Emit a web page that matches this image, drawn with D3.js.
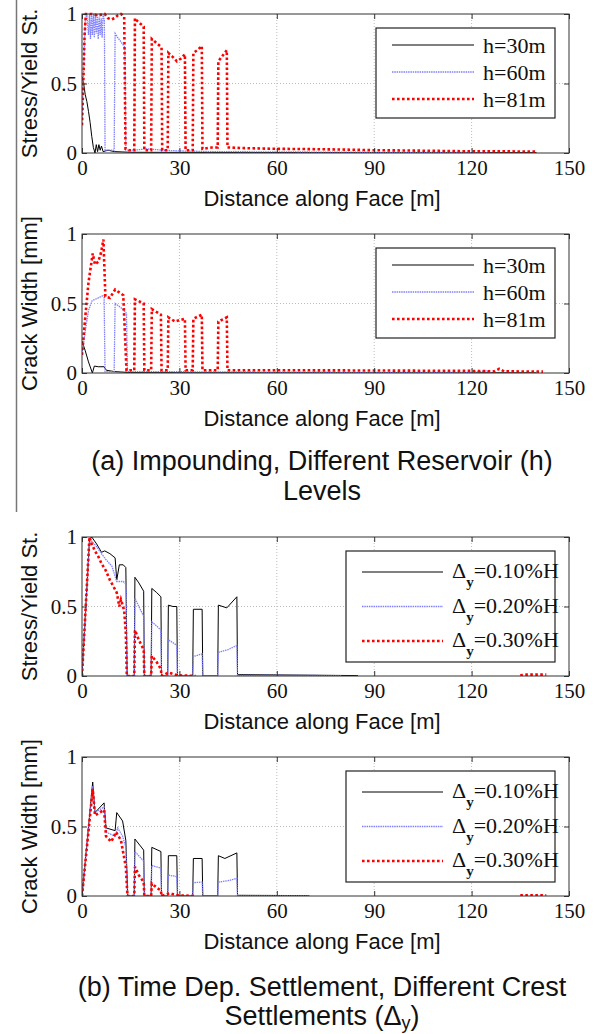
<!DOCTYPE html>
<html>
<head>
<meta charset="utf-8">
<script src="https://cdnjs.cloudflare.com/ajax/libs/d3/7.8.5/d3.min.js"></script>
<style>
body{margin:0;background:#fff}
svg{display:block}
</style>
</head>
<body>
<script>
// ---- data: [distance along face (m), value] ----
// (a) impounding, stress / yield strength
var stressH30=[[0,0.55],[0.5,0.5],[1,0.42],[1.5,0.37],[2,0.3],[2.5,0.22],[3,0.12],[3.5,0.04],[4,0],[4.4,0.06],[4.8,0.01],[5.2,0.06],[5.6,0.02],[6,0.05],[6.5,0.01],[8,0.02],[10,0.01],[15,0.005],[40,0.004],[80,0.003],[140,0.002]]
var stressH60=[[0,0.25],[0.5,0.6],[1,0.95],[1.5,1],[2,0.85],[2.3,1],[2.6,0.82],[2.9,1],[3.2,0.85],[3.5,1],[3.8,0.83],[4.1,0.99],[4.4,0.86],[4.7,1],[5,0.82],[5.3,0.98],[5.6,0.85],[5.9,0.97],[6.2,0.83],[6.5,1],[6.9,0.95],[7.1,0.02],[8,0.02],[9.9,0.02],[10.2,0.86],[11,0.83],[12,0.8],[13.2,0.76],[13.5,0.02],[16,0.02],[20,0.03],[25,0.02],[30,0.015],[40,0.01],[60,0.008],[90,0.005],[110,0.004],[125,0.003]]
var stressH81=[[0,0.2],[0.4,0.5],[0.8,0.85],[1.2,1],[3,1],[5,0.99],[7,1],[8,0.97],[9,0.96],[10,0.97],[11,0.99],[12,1],[13,0.98],[13.4,0.03],[14.5,0.02],[16.1,0.02],[16.3,0.97],[17,0.95],[18,0.93],[19,0.91],[19.2,0.02],[21.3,0.02],[21.5,0.82],[23,0.79],[24.5,0.76],[24.7,0.02],[26.4,0.02],[26.6,0.72],[28,0.69],[29.2,0.66],[30.5,0.68],[31.7,0.71],[31.9,0.02],[34.1,0.02],[34.3,0.72],[35.5,0.74],[36.9,0.77],[37.1,0.03],[40,0.04],[41.8,0.04],[42,0.66],[43.3,0.7],[44.6,0.74],[44.8,0.04],[50,0.035],[60,0.03],[70,0.028],[80,0.025],[90,0.02],[100,0.018],[110,0.015],[120,0.012],[130,0.012],[140,0.01]]
// (a) impounding, crack width (mm)
var crackH30=[[0,0.23],[1,0.16],[2,0.08],[3.2,0],[3.8,0.05],[5,0.045],[6.8,0.045],[7.5,0.02],[10,0.01],[15,0.003],[40,0.002],[80,0.002],[140,0.001]]
var crackH60=[[0,0.14],[1,0.3],[2,0.45],[3.1,0.52],[5,0.54],[6.8,0.56],[7.1,0.01],[9.9,0.01],[10.2,0.5],[12,0.47],[13.7,0.43],[14,0.01],[20,0.01],[40,0.008],[80,0.005],[120,0.005],[124.6,0.015],[126,0.003]]
var crackH81=[[0,0.13],[1,0.4],[2,0.65],[3.3,0.86],[4,0.78],[5,0.8],[5.8,0.86],[6.6,0.96],[7.2,0.55],[8.6,0.54],[10.2,0.6],[12.7,0.56],[13.7,0.02],[16.1,0.02],[16.3,0.53],[19,0.5],[19.2,0.02],[21.3,0.02],[21.5,0.46],[24.3,0.42],[24.5,0.02],[26.4,0.02],[26.6,0.4],[28.7,0.37],[30,0.38],[31.7,0.39],[31.9,0.02],[34.1,0.02],[34.3,0.39],[36.9,0.42],[37.1,0.02],[41.8,0.02],[42,0.37],[44.6,0.4],[44.8,0.02],[60,0.02],[90,0.018],[120,0.015],[127,0.012],[128.5,0.03],[130,0.012],[142,0.01]]
// (b) time dep. settlement, stress / yield strength
var stressD10=[[0,0],[2.3,0.98],[3,1],[4.5,0.95],[6,0.89],[7,0.9],[8.6,0.88],[10.2,0.85],[10.7,0.69],[11.5,0.8],[12.7,0.8],[13.5,0.78],[13.9,0],[16.1,0],[16.3,0.71],[17.5,0.67],[19,0.61],[19.2,0],[21.3,0],[21.5,0.63],[23,0.6],[24.3,0.57],[24.5,0],[26.4,0],[26.6,0.51],[28,0.5],[29.2,0.5],[29.4,0],[34.1,0],[34.3,0.48],[37,0.48],[37.2,0],[41.8,0],[42,0.51],[44.6,0.49],[47.7,0.57],[47.9,0.01],[60,0.008],[85,0.003]]
var stressD20=[[0,0],[2.3,0.96],[3,0.97],[4.5,0.93],[6,0.88],[7.3,0.84],[9.2,0.79],[10.7,0.68],[12.7,0.68],[13.6,0.66],[13.8,0],[16.1,0],[16.3,0.56],[17.5,0.5],[19,0.43],[19.2,0],[21.3,0],[21.5,0.39],[23,0.36],[24.3,0.33],[24.5,0],[26.4,0],[26.6,0.26],[28,0.24],[29.2,0.22],[29.4,0],[34.1,0],[34.3,0.14],[37,0.16],[37.2,0],[41.8,0],[42,0.17],[45,0.19],[47.7,0.22],[47.9,0.005],[80,0.003]]
var stressD30=[[0,0],[2.3,1],[3,0.95],[4,0.9],[5,0.86],[6,0.81],[7.3,0.76],[8.6,0.69],[10,0.63],[10.7,0.6],[11.5,0.5],[12,0.55],[13,0.47],[13.5,0.31],[13.8,0],[16.1,0],[16.3,0.33],[17.5,0.26],[19,0.19],[19.2,0],[21.3,0],[21.5,0.145],[23,0.1],[24.3,0.05],[24.5,0],[26.6,0.025],[28,0.015],[29.5,0.005],[35,0],[60,null],[135,0.005],[137,0.01],[143,0.01]]
// (b) time dep. settlement, crack width (mm)
var crackD10=[[0,0],[3.3,0.82],[4,0.6],[6.8,0.67],[7.4,0.49],[10.2,0.47],[10.7,0.6],[12.5,0.54],[13.5,0.4],[14.1,0],[16.1,0],[16.3,0.41],[19,0.33],[19.2,0],[21.3,0],[21.5,0.35],[24.3,0.32],[24.5,0],[26.4,0],[26.6,0.29],[29.2,0.29],[29.4,0],[34.1,0],[34.3,0.27],[37,0.27],[37.2,0],[41.8,0],[42,0.29],[44,0.27],[47.7,0.31],[47.9,0.005],[70,0.003]]
var crackD20=[[0,0],[3.3,0.79],[4,0.6],[6.8,0.64],[7.4,0.46],[10.2,0.43],[11,0.49],[12.5,0.43],[13.5,0.35],[14,0],[16.1,0],[16.3,0.32],[19,0.25],[19.2,0],[21.3,0],[21.5,0.22],[24.3,0.2],[24.5,0],[26.4,0],[26.6,0.15],[29.2,0.14],[29.4,0],[34.1,0],[34.3,0.096],[37,0.1],[37.2,0],[41.8,0],[42,0.1],[45,0.11],[47.7,0.127],[47.9,0.003],[70,0.002]]
var crackD30=[[0,0],[3.3,0.77],[4,0.58],[6.8,0.62],[7.4,0.43],[9,0.39],[10.5,0.46],[12,0.4],[13.5,0.21],[14,0],[16.1,0],[16.3,0.21],[17.5,0.15],[19,0.1],[19.2,0],[21.3,0],[21.5,0.09],[23,0.06],[24.3,0.04],[24.5,0],[27,0.02],[29,0.005],[35,0],[60,null],[135,0.005],[143,0.005]]

var xTicks=[0,30,60,90,120,150]
var yTicks=[0,0.5,1]
var hNames=["h=30m","h=60m","h=81m"]
var dNames=["=0.10%H","=0.20%H","=0.30%H"]

// ---- drawing ----
var screen={width:597,height:1034}
var margins={left:82,right:28}
var plotH=139
var width=screen.width-margins.left-margins.right
var xScale=d3.scaleLinear().domain([0,150]).range([margins.left,margins.left+width])
var serif="'Liberation Serif','Times New Roman',serif"
var sans="'Liberation Sans',Arial,sans-serif"
var lineStyles=[
  {color:"#000000",w:1,dash:null},
  {color:"#8080ff",w:1.3,dash:"1.5,0.8"},
  {color:"#ff0000",w:2.6,dash:"2.6,2.4"}
]

var svg=d3.select("body").append("svg").attr("width",screen.width).attr("height",screen.height)

// left margin rule of the page
svg.append("line").attr("x1",16.5).attr("x2",16.5).attr("y1",0).attr("y2",512)
   .attr("stroke","#777").attr("stroke-width",1.5)

var drawPanel=function(id,top,yLabel,series,legend){
  var yScale=d3.scaleLinear().domain([0,1]).range([top+plotH,top])
  var g=svg.append("g")
  g.append("clipPath").attr("id","clip"+id).append("rect")
   .attr("x",margins.left).attr("y",top-2).attr("width",width).attr("height",plotH+2)
  // grid
  g.append("g").selectAll("line").data(xTicks.slice(1,-1)).enter().append("line")
   .attr("x1",function(d){return xScale(d)}).attr("x2",function(d){return xScale(d)})
   .attr("y1",top).attr("y2",top+plotH)
   .attr("stroke","#bdbdbd").attr("stroke-dasharray","1,2")
  g.append("g").selectAll("line").data(yTicks.slice(1,-1)).enter().append("line")
   .attr("x1",margins.left).attr("x2",margins.left+width)
   .attr("y1",function(d){return yScale(d)}).attr("y2",function(d){return yScale(d)})
   .attr("stroke","#bdbdbd").attr("stroke-dasharray","1,2")
  // series
  var line=d3.line()
    .defined(function(d){return d[1]!=null})
    .x(function(d){return xScale(d[0])})
    .y(function(d){return yScale(d[1])})
  g.append("g").attr("clip-path","url(#clip"+id+")").selectAll("path")
   .data(series).enter().append("path")
   .attr("d",function(d){return line(d)})
   .attr("fill","none")
   .attr("stroke",function(d,i){return lineStyles[i].color})
   .attr("stroke-width",function(d,i){return lineStyles[i].w})
   .attr("stroke-dasharray",function(d,i){return lineStyles[i].dash})
  // axes with inward ticks
  var xAxis=d3.axisBottom(xScale).tickValues(xTicks).tickSize(-5).tickPadding(7)
  var yAxis=d3.axisLeft(yScale).tickValues(yTicks).tickSize(-5).tickPadding(5).tickFormat(function(d){return d})
  var ax=g.append("g").attr("transform","translate(0,"+(top+plotH)+")").call(xAxis)
  var ay=g.append("g").attr("transform","translate("+margins.left+",0)").call(yAxis)
  g.append("g").attr("transform","translate(0,"+top+")")
   .call(d3.axisTop(xScale).tickValues(xTicks).tickSize(-5).tickFormat(""))
  g.append("g").attr("transform","translate("+(margins.left+width)+",0)")
   .call(d3.axisRight(yScale).tickValues(yTicks).tickSize(-5).tickFormat(""))
  g.selectAll(".domain").remove()
  g.selectAll(".tick line").attr("stroke","#333")
  ax.selectAll("text").attr("font-family",serif).attr("font-size",21).attr("fill","#111")
  ay.selectAll("text").attr("font-family",serif).attr("font-size",21).attr("fill","#111")
  g.append("rect").attr("x",margins.left).attr("y",top).attr("width",width).attr("height",plotH)
   .attr("fill","none").attr("stroke","#333").attr("stroke-width",1)
  // labels
  g.append("text").text("Distance along Face [m]")
   .attr("x",322).attr("y",top+plotH+53)
   .attr("text-anchor","middle").attr("font-family",sans).attr("font-size",22).attr("fill","#111")
  g.append("text").text(yLabel)
   .attr("transform","translate(37,"+(top+plotH/2)+") rotate(-90)")
   .attr("text-anchor","middle").attr("font-family",sans).attr("font-size",22).attr("fill","#111")
  // legend
  var lg=g.append("g")
  lg.append("rect").attr("x",legend.x).attr("y",top+14).attr("width",555-legend.x).attr("height",legend.h)
   .attr("fill","#fff").attr("stroke","#222").attr("stroke-width",1.2)
  legend.names.forEach(function(name,i){
    var ly=top+14+legend.first+i*legend.step
    lg.append("line").attr("x1",legend.x+16).attr("x2",legend.x+16+legend.len)
      .attr("y1",ly).attr("y2",ly)
      .attr("stroke",lineStyles[i].color).attr("stroke-width",lineStyles[i].w)
      .attr("stroke-dasharray",lineStyles[i].dash)
    var t=lg.append("text").attr("x",legend.x+25+legend.len).attr("y",ly+legend.base)
      .attr("font-family",serif).attr("font-size",22).attr("fill","#111")
    if(legend.delta){
      t.append("tspan").text("\u0394")
      t.append("tspan").text("y").attr("font-size",15).attr("font-weight","bold").attr("dy",9)
      t.append("tspan").text(name).attr("dy",-9)
    }else{
      t.text(name)
    }
  })
}

var legA={names:hNames,x:376,h:90,first:17,step:27,len:82,base:8,delta:false}
var legB={names:dNames,x:346,h:111,first:21,step:34.5,len:81,base:6,delta:true}

drawPanel(1,14,"Stress/Yield St.",[stressH30,stressH60,stressH81],legA)
drawPanel(2,234,"Crack Width [mm]",[crackH30,crackH60,crackH81],legA)
drawPanel(3,537,"Stress/Yield St.",[stressD10,stressD20,stressD30],legB)
drawPanel(4,757,"Crack Width [mm]",[crackD10,crackD20,crackD30],legB)

// captions
var capText=function(y){
  return svg.append("text").attr("x",322).attr("y",y)
     .attr("text-anchor","middle").attr("font-family",sans).attr("font-size",27).attr("fill","#111")
}
capText(470).text("(a) Impounding, Different Reservoir (h)")
capText(500).text("Levels")
capText(996).text("(b) Time Dep. Settlement, Different Crest")
var last=capText(1025)
last.append("tspan").text("Settlements (\u0394")
last.append("tspan").text("y").attr("font-size",18).attr("dy",4)
last.append("tspan").text(")").attr("dy",-4)
</script>
</body>
</html>
